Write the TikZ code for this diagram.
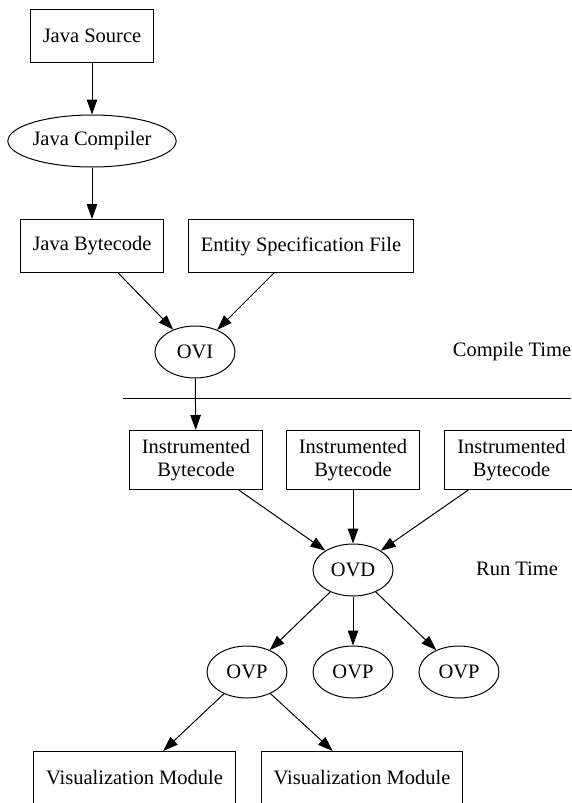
\documentclass[tikz,border=0pt]{standalone}
\usepackage{fontspec}
\setmainfont{Liberation Serif}
\usetikzlibrary{arrows.meta, shapes.geometric}

\tikzset{
    filebox/.style={draw, rectangle, line width=1pt, inner xsep=12.5pt, minimum height=53pt},
    toolnode/.style={draw, ellipse, line width=1pt, inner sep=0pt, minimum width=80pt, minimum height=52pt},
    flow/.style={line width=1pt, -{Triangle[length=15pt,width=10.5pt]}}
}

\begin{document}
\begin{tikzpicture}[x=1pt,y=-1pt,font=\fontsize{20.5}{23}\selectfont]
            \useasboundingbox (0,0) rectangle (571,803);
            % compile time
            \node[filebox] (src) at (92,36) {Java Source};
            \node[toolnode,minimum width=159pt] (javac) at (92,141) {Java Compiler};
            \node[filebox] (jbc) at (92,246) {Java Bytecode};
            \node[filebox] (spec) at (301,246) {Entity Specification File};
            \node[toolnode] (ovi) at (195,352) {OVI};
            \node (ctime) at (512,352) {Compile Time};
            \draw[line width=0.8pt] (123,398)--(571,398);
            % run time
            \foreach \i/\x in {1/196,2/353,3/511.5}{
                \node[filebox,align=center,minimum height=59pt] (ib\i) at (\x,460) {Instrumented\\Bytecode};
            }
            \node[toolnode] (ovd) at (353,570) {OVD};
            \node (rtime) at (517,569) {Run Time};
            \foreach \i/\x in {1/247,2/353,3/459}{
                \node[toolnode] (ovp\i) at (\x,672) {OVP};
            }
            \node[filebox] (vm1) at (134.5,778) {Visualization Module};
            \node[filebox] (vm2) at (362,778) {Visualization Module};
            \draw[flow] (src)--(javac);
            \draw[flow] (javac)--(jbc);
            \draw[flow] (jbc)--(ovi);
            \draw[flow] (spec)--(ovi);
            \draw[flow] (ovi)--(ib1);
            \foreach \i in {1,2,3}{
                \draw[flow] (ib\i)--(ovd);
                \draw[flow] (ovd)--(ovp\i);
            }
            \draw[flow] (ovp1)--(vm1);
            \draw[flow] (ovp1)--(vm2);
        \end{tikzpicture}
\end{document}
